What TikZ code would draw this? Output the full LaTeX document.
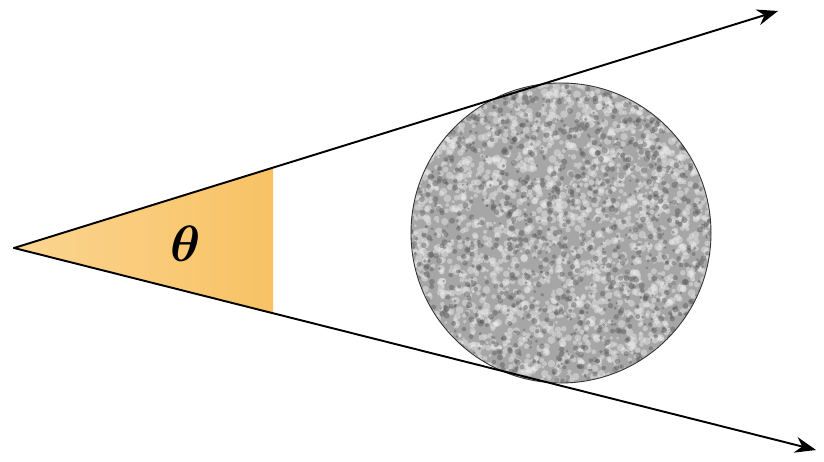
\documentclass[tikz,border=0pt]{standalone}
\usepackage{amsmath,amssymb}
\usetikzlibrary{arrows.meta}

\definecolor{wedgelight}{HTML}{FBD591}
\definecolor{wedgedark}{HTML}{F8C264}

\begin{document}
\begin{tikzpicture}[x=0.02cm, y=0.02cm, line cap=round, line join=round, >={Stealth[length=4.2mm,width=3.2mm]}]
    \useasboundingbox (0,0) rectangle (824,462);

    \coordinate (A)  at (14,214);
    \coordinate (TU) at (778,451);
    \coordinate (TL) at (816,12);
    \coordinate (CU) at (273,295);
    \coordinate (CL) at (273,148);
    \coordinate (C)  at (561,229);

    % wedge
    \shade[left color=wedgelight, right color=wedgedark] (A) -- (CU) -- (CL) -- cycle;
    \node[scale=2.9] (theta) at (186,218) {$\boldsymbol{\theta}$};

    % ball
    \begin{scope}
        \clip (C) circle (150);
        \fill[black!35] (C) circle (150);
        \pgfmathsetseed{11}
        \foreach \i in {1,...,2600} {
            \pgfmathsetmacro\px{561+153*rand}
            \pgfmathsetmacro\py{229+153*rand}
            \pgfmathsetmacro\sz{1.5+2.5*rnd}
            \fill[black!8, opacity=0.45] (\px,\py) circle (\sz);
        }
        \foreach \i in {1,...,1300} {
            \pgfmathsetmacro\px{561+153*rand}
            \pgfmathsetmacro\py{229+153*rand}
            \pgfmathsetmacro\sz{1.2+2.0*rnd}
            \fill[black!65, opacity=0.45] (\px,\py) circle (\sz);
        }
    \end{scope}
    \draw[black!80, line width=0.5pt] (C) circle (150);

    \draw[->, line width=1.1pt] (A) -- (TU);
    \draw[->, line width=1.1pt] (A) -- (TL);
\end{tikzpicture}
\end{document}
